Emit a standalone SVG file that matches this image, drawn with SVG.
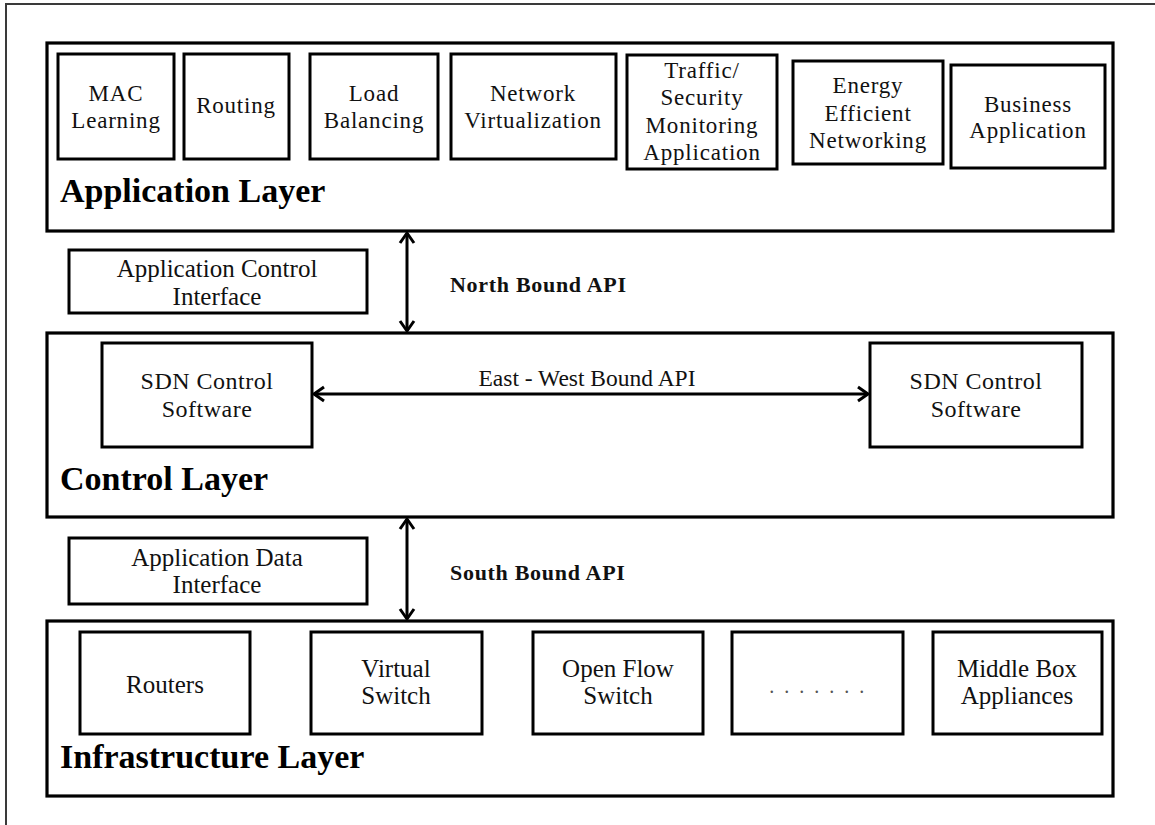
<svg xmlns="http://www.w3.org/2000/svg" width="1155" height="825" viewBox="0 0 1155 825">
<style>
.frame{fill:none;stroke:#3a3a3a;stroke-width:2}
.layer{fill:#fff;stroke:#000;stroke-width:3.2}
.box{fill:#fff;stroke:#000;stroke-width:3}
.t{font-family:"Liberation Serif","Times New Roman",serif;fill:#111;text-anchor:middle}
.app{font-size:23px;letter-spacing:0.8px}
.ctl{font-size:24px;letter-spacing:0.5px}
.itf{font-size:25px}
.infra{font-size:25px}
.title{font-family:"Liberation Serif","Times New Roman",serif;font-size:34px;font-weight:bold;fill:#000}
.api{font-family:"Liberation Serif","Times New Roman",serif;font-size:22px;font-weight:bold;letter-spacing:0.7px;fill:#111}
.conn{fill:none;stroke:#000;stroke-width:3}
</style>
<defs>
<marker id="ah" viewBox="0 0 14 16" refX="12" refY="8" markerWidth="14" markerHeight="16" markerUnits="userSpaceOnUse" orient="auto-start-reverse" overflow="visible">
<path d="M2,1 L12,8 L2,15" fill="none" stroke="#000" stroke-width="3"/>
</marker>
</defs>
<path class="frame" d="M6,825 V4 H1155"/>

<g id="application-layer">
<rect class="layer" x="47" y="43" width="1066" height="188"/>
<text class="title" x="60" y="202">Application Layer</text>
</g>
<g id="mac-learning">
<rect class="box" x="58" y="54" width="116" height="105"/>
<text class="t app" x="116" y="101">MAC</text>
<text class="t app" x="116" y="128">Learning</text>
</g>
<g id="routing">
<rect class="box" x="184" y="54" width="105" height="105"/>
<text class="t app" x="236" y="113">Routing</text>
</g>
<g id="load-balancing">
<rect class="box" x="310" y="54" width="128" height="105"/>
<text class="t app" x="374" y="101">Load</text>
<text class="t app" x="374" y="128">Balancing</text>
</g>
<g id="network-virtualization">
<rect class="box" x="451" y="54" width="165" height="105"/>
<text class="t app" x="533" y="101">Network</text>
<text class="t app" x="533" y="128">Virtualization</text>
</g>
<g id="traffic-monitoring">
<rect class="box" x="627" y="55" width="150" height="114"/>
<text class="t app" x="702" y="78">Traffic/</text>
<text class="t app" x="702" y="105">Security</text>
<text class="t app" x="702" y="133">Monitoring</text>
<text class="t app" x="702" y="160">Application</text>
</g>
<g id="energy-efficient">
<rect class="box" x="793" y="61" width="150" height="103"/>
<text class="t app" x="868" y="93">Energy</text>
<text class="t app" x="868" y="121">Efficient</text>
<text class="t app" x="868" y="148">Networking</text>
</g>
<g id="business-application">
<rect class="box" x="951" y="65" width="154" height="103"/>
<text class="t app" x="1028" y="112">Business</text>
<text class="t app" x="1028" y="138">Application</text>
</g>

<g id="application-control-interface">
<rect class="box" x="69" y="250" width="298" height="63"/>
<text class="t itf" x="217" y="277">Application Control</text>
<text class="t itf" x="217" y="305">Interface</text>
</g>
<text class="api" x="450" y="292">North Bound API</text>

<g id="control-layer">
<rect class="layer" x="47" y="333" width="1066" height="184"/>
<text class="title" x="60" y="490">Control Layer</text>
</g>
<g id="sdn-control-left">
<rect class="box" x="102" y="343" width="210" height="104"/>
<text class="t ctl" x="207" y="389">SDN Control</text>
<text class="t ctl" x="207" y="417">Software</text>
</g>
<g id="sdn-control-right">
<rect class="box" x="870" y="343" width="212" height="104"/>
<text class="t ctl" x="976" y="389">SDN Control</text>
<text class="t ctl" x="976" y="417">Software</text>
</g>
<text class="t" style="font-size:23.5px" x="587" y="386">East - West Bound API</text>

<g id="application-data-interface">
<rect class="box" x="69" y="538" width="298" height="66"/>
<text class="t itf" x="217" y="566">Application Data</text>
<text class="t itf" x="217" y="593">Interface</text>
</g>
<text class="api" x="450" y="580">South Bound API</text>

<g id="infrastructure-layer">
<rect class="layer" x="47" y="621" width="1066" height="175"/>
<text class="title" x="60" y="768">Infrastructure Layer</text>
</g>
<g id="routers">
<rect class="box" x="80" y="632" width="170" height="102"/>
<text class="t infra" x="165" y="693">Routers</text>
</g>
<g id="virtual-switch">
<rect class="box" x="311" y="632" width="171" height="102"/>
<text class="t infra" x="396" y="677">Virtual</text>
<text class="t infra" x="396" y="704">Switch</text>
</g>
<g id="open-flow-switch">
<rect class="box" x="533" y="632" width="170" height="102"/>
<text class="t infra" x="618" y="677">Open Flow</text>
<text class="t infra" x="618" y="704">Switch</text>
</g>
<g id="ellipsis-box">
<rect class="box" x="732" y="632" width="171" height="102"/>
<text class="t" style="font-size:20px;letter-spacing:2.5px;fill:#555" x="818" y="693">. . . . . . .</text>
</g>
<g id="middle-box">
<rect class="box" x="933" y="632" width="169" height="102"/>
<text class="t infra" x="1017" y="677">Middle Box</text>
<text class="t infra" x="1017" y="704">Appliances</text>
</g>

<g id="connectors">
<line class="conn" x1="407" y1="233" x2="407" y2="331" marker-start="url(#ah)" marker-end="url(#ah)"/>
<line class="conn" x1="314" y1="394" x2="868" y2="394" marker-start="url(#ah)" marker-end="url(#ah)"/>
<line class="conn" x1="407" y1="519" x2="407" y2="619" marker-start="url(#ah)" marker-end="url(#ah)"/>
</g>
</svg>
